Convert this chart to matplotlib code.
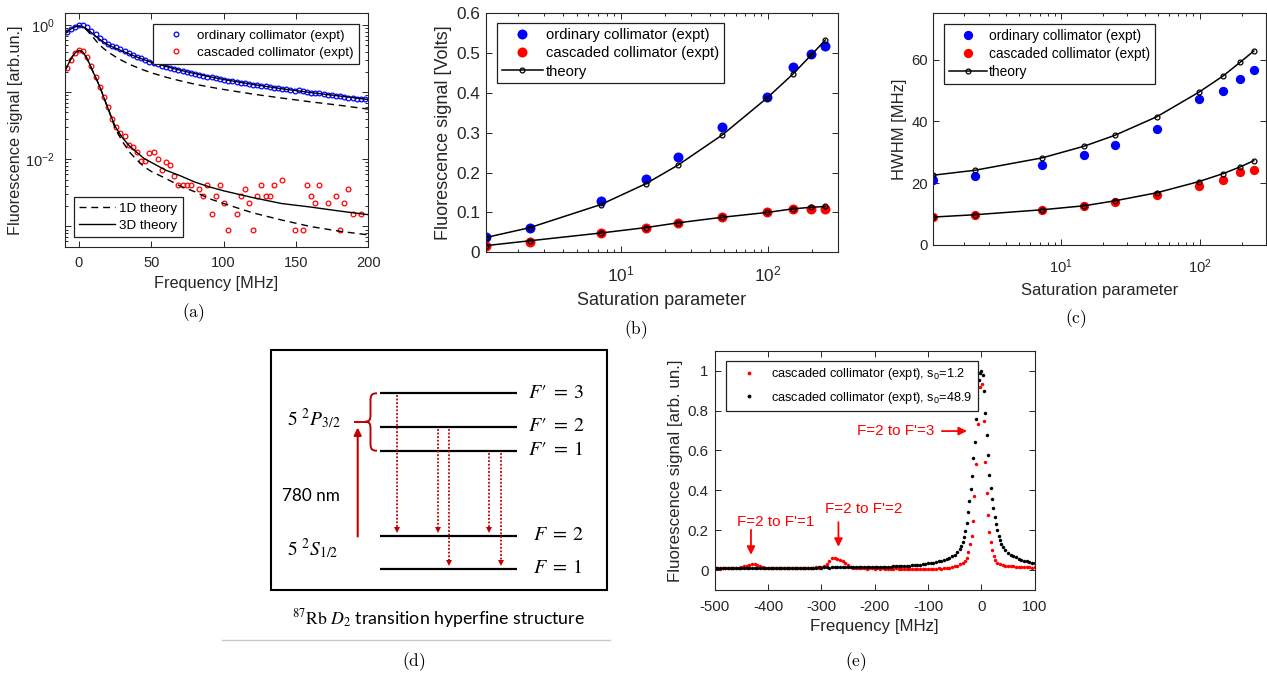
import numpy as np
import matplotlib.pyplot as plt
from matplotlib.patches import Rectangle, PathPatch
from matplotlib.path import Path
from matplotlib.ticker import LogLocator, NullFormatter

W, H = 1267, 675
GREY = '#262626'
DRED = '#c00000'

plt.rcParams['font.family'] = ['Liberation Sans', 'DejaVu Sans']
plt.rcParams['mathtext.fontset'] = 'custom'
plt.rcParams['mathtext.rm'] = 'Liberation Sans'
plt.rcParams['mathtext.it'] = 'Liberation Sans:italic'
plt.rcParams['mathtext.bf'] = 'Liberation Sans:bold'
plt.rcParams['axes.unicode_minus'] = False

#(a) line shapes, log scale
a_freq = np.linspace(-8.6, 197.75, 73)
a_ordinary = [0.80, 0.88, 0.95, 1.01, 1.00, 0.93, 0.83, 0.73, 0.64, 0.575,
              0.525, 0.49, 0.465, 0.435, 0.41, 0.385, 0.36, 0.34, 0.32, 0.302,
              0.286, 0.272, 0.26, 0.25, 0.24, 0.229, 0.22, 0.213, 0.206, 0.198,
              0.192, 0.186, 0.181, 0.175, 0.171, 0.166, 0.161, 0.157, 0.152, 0.149,
              0.145, 0.142, 0.139, 0.135, 0.133, 0.130, 0.127, 0.124, 0.122, 0.119,
              0.117, 0.115, 0.113, 0.110, 0.109, 0.106, 0.108, 0.103, 0.101, 0.099,
              0.098, 0.096, 0.093, 0.092, 0.091, 0.088, 0.087, 0.085, 0.083, 0.082,
              0.080, 0.079, 0.078]
nan = np.nan
a_cascaded = [0.226, 0.307, 0.39, 0.43, 0.405, 0.335, 0.245, 0.168, 0.118, 0.0839,
              0.0596, 0.0395, 0.0307, 0.0244, 0.0225, 0.0162, 0.0155, 0.0127, 0.00957, 0.00957,
              0.0123, 0.0129, 0.0103, 0.00688, 0.00904, 0.00826, 0.0056, 0.00421, 0.00421, 0.00421,
              0.00421, nan, 0.00359, 0.00289, 0.00421, 0.00154, 0.00289, 0.00421, 0.00222, 0.00088,
              nan, 0.00154, 0.00289, 0.00359, 0.00222, 0.00088, 0.00289, 0.00421, 0.00289, 0.00289,
              0.00421, nan, 0.00493, nan, nan, 0.00088, nan, 0.00088, 0.00421, 0.00289,
              0.00222, 0.00421, nan, 0.00222, nan, 0.00289, 0.00088, 0.00222, 0.00359, 0.00154,
              nan, 0.00154, nan]
a_theory_freq = [-10, -7.5, -5, -2.5, 0, 2.5, 5, 7.5, 10, 12.5, 15, 17.5, 20, 25, 30,
                 35, 40, 45, 50, 60, 70, 80, 90, 100, 120, 140, 160, 180, 200]
a_3d_ordinary = [0.74, 0.82, 0.89, 0.95, 0.97, 0.95, 0.89, 0.81, 0.73, 0.66, 0.60, 0.55,
                 0.51, 0.455, 0.41, 0.37, 0.335, 0.305, 0.28, 0.243, 0.213, 0.19, 0.171,
                 0.155, 0.131, 0.113, 0.099, 0.088, 0.078]
a_1d_ordinary = [0.74, 0.82, 0.89, 0.95, 0.97, 0.94, 0.86, 0.75, 0.65, 0.56, 0.49, 0.44,
                 0.40, 0.34, 0.295, 0.26, 0.235, 0.213, 0.195, 0.168, 0.148, 0.132, 0.12,
                 0.11, 0.094, 0.082, 0.072, 0.064, 0.056]
a_3d_cascaded = [0.20, 0.26, 0.33, 0.39, 0.42, 0.40, 0.335, 0.26, 0.195, 0.15, 0.112, 0.08,
                 0.058, 0.031, 0.021, 0.0158, 0.0127, 0.0103, 0.009, 0.0069, 0.0057, 0.0046,
                 0.0039, 0.0034, 0.0027, 0.0022, 0.00195, 0.0017, 0.0015]
a_1d_cascaded = [0.20, 0.26, 0.33, 0.39, 0.42, 0.40, 0.335, 0.26, 0.195, 0.15, 0.112, 0.08,
                 0.058, 0.029, 0.0185, 0.0128, 0.0098, 0.0078, 0.0066, 0.0052, 0.0040, 0.0033,
                 0.0026, 0.0022, 0.0016, 0.00125, 0.001, 0.00085, 0.00075]

#(b) and (c) saturation series
sat = [1.2, 2.4, 7.3, 14.7, 24.4, 48.9, 98, 147, 196, 245]
b_ordinary = [0.039, 0.062, 0.129, 0.185, 0.238, 0.315, 0.391, 0.464, 0.497, 0.518]
b_cascaded = [0.0167, 0.026, 0.048, 0.062, 0.074, 0.0895, 0.100, 0.108, 0.109, 0.109]
b_theory_ord = [0.037, 0.062, 0.120, 0.172, 0.219, 0.295, 0.387, 0.447, 0.495, 0.533]
b_theory_cas = [0.0167, 0.029, 0.0485, 0.062, 0.074, 0.088, 0.100, 0.109, 0.113, 0.115]
b_yticks = [0, 0.1, 0.2, 0.3, 0.4, 0.5, 0.6]
b_ylabels = ['0', '0.1', '0.2', '0.3', '0.4', '0.5', '0.6']

c_ordinary = [21.0, 22.3, 25.9, 29.0, 32.3, 37.6, 47.1, 49.8, 53.6, 56.5]
c_cascaded = [9.05, 9.6, 11.2, 12.6, 14.0, 16.2, 19.2, 21.2, 23.5, 24.2]
c_theory_ord = [22.6, 24.2, 28.2, 32.0, 35.5, 41.5, 49.4, 54.7, 59.2, 62.8]
c_theory_cas = [9.05, 9.8, 11.4, 12.7, 14.3, 16.9, 20.5, 23.1, 25.3, 27.3]

#(e) spectra
e_base_f = np.arange(-500, -39, 5)
e_red_base = [0.008, 0.01, 0.007, 0.009, 0.011, 0.008, 0.01, 0.012, 0.009, 0.011,
              0.014, 0.018, 0.022, 0.027, 0.03, 0.029, 0.026, 0.02, 0.015, 0.012,
              0.01, 0.009, 0.011, 0.008, 0.01, 0.009, 0.011, 0.008, 0.01, 0.009,
              0.011, 0.01, 0.008, 0.012, 0.01, 0.011, 0.009, 0.012, 0.013, 0.012,
              0.015, 0.02, 0.03, 0.045, 0.058, 0.06, 0.055, 0.05, 0.045, 0.035,
              0.025, 0.016, 0.012, 0.01, 0.009, 0.008, 0.01, 0.007, 0.009, 0.008,
              0.007, 0.009, 0.006, 0.008, 0.007, 0.005, 0.007, 0.006, 0.008, 0.006,
              0.005, 0.007, 0.006, 0.004, 0.006, 0.005, 0.007, 0.005, 0.006, 0.004,
              0.006, 0.005, 0.007, 0.006, 0.008, 0.007, 0.009, 0.01, 0.012, 0.014,
              0.018, 0.022, 0.03]
e_red_peak_f = [-35, -31, -27.5, -24.5, -21.5, -18.5, -15.5, -13, -10, -7, -3.5,
                1.5, 4, 7.5, 11, 13, 15, 17.5, 20, 23, 26, 30]
e_red_peak = [0.035, 0.045, 0.06, 0.09, 0.13, 0.17, 0.245, 0.37, 0.53, 0.73, 0.92,
              0.935, 0.745, 0.54, 0.385, 0.275, 0.19, 0.14, 0.1, 0.07, 0.05, 0.035]
e_red_tail_f = np.arange(35, 101, 5)
e_red_tail = [0.028, 0.025, 0.02, 0.022, 0.018, 0.02, 0.016, 0.015, 0.017, 0.014,
              0.013, 0.015, 0.012, 0.013]
e_black_base = [0.008, 0.009, 0.008, 0.009, 0.009, 0.008, 0.009, 0.01, 0.009, 0.009,
                0.01, 0.009, 0.01, 0.01, 0.009, 0.01, 0.01, 0.009, 0.01, 0.01,
                0.01, 0.011, 0.01, 0.01, 0.011, 0.01, 0.011, 0.011, 0.01, 0.011,
                0.011, 0.011, 0.012, 0.011, 0.012, 0.011, 0.012, 0.012, 0.012, 0.013,
                0.012, 0.013, 0.013, 0.012, 0.013, 0.013, 0.014, 0.013, 0.014, 0.014,
                0.014, 0.013, 0.014, 0.014, 0.015, 0.014, 0.015, 0.015, 0.014, 0.015,
                0.015, 0.016, 0.015, 0.016, 0.017, 0.016, 0.017, 0.018, 0.018, 0.019,
                0.019, 0.02, 0.021, 0.022, 0.023, 0.024, 0.025, 0.027, 0.029, 0.031,
                0.033, 0.035, 0.037, 0.04, 0.043, 0.047, 0.051, 0.056, 0.062, 0.069,
                0.077, 0.09, 0.105]
e_black_peak_f = [-37.5, -35, -32.5, -30, -27.5, -25, -22.5, -20, -17.5, -15, -12.5,
                  -10, -7.5, -5, -2.5, 0, 2.5, 5, 7.5, 10, 12.5, 15, 17.5, 20, 22.5,
                  25, 27.5, 30, 32.5, 35, 37.5]
e_black_peak = [0.12, 0.14, 0.165, 0.195, 0.235, 0.29, 0.345, 0.405, 0.47, 0.56, 0.643,
                0.755, 0.865, 0.955, 0.99, 1.0, 0.98, 0.9, 0.79, 0.675, 0.575, 0.475,
                0.41, 0.355, 0.31, 0.265, 0.23, 0.2, 0.172, 0.15, 0.13]
e_black_tail_f = np.arange(40, 101, 5)
e_black_tail = [0.115, 0.1, 0.088, 0.078, 0.07, 0.063, 0.057, 0.052, 0.047, 0.043,
                0.04, 0.037, 0.034]

#(d) level diagram layout (pixels)
d_levels_y = [393.3, 426.7, 450.7, 536.0, 568.7]
d_level_names = ["$F\u2032\\;=\\;3$", "$F\u2032\\;=\\;2$", "$F\u2032\\;=\\;1$",
                 r"$F\;=\;2$", r"$F\;=\;1$"]
d_label_x = [528, 528, 528, 533, 533]
d_decays = [(396.7, 0, 3), (437.7, 1, 3), (449.3, 1, 4), (489.3, 2, 3), (501.0, 2, 4)]


def px_axes(fig, left, top, right, bottom):
    return fig.add_axes([left / W, 1 - bottom / H, (right - left) / W, (bottom - top) / H])


def matlab_axes(ax, fs, xpad, ypad):
    ax.tick_params(which='both', direction='in', top=True, right=True,
                   labelsize=fs, color=GREY, labelcolor=GREY, width=0.7)
    ax.tick_params(which='major', length=4.5)
    ax.tick_params(which='minor', length=2.5)
    ax.tick_params(axis='x', pad=xpad)
    ax.tick_params(axis='y', pad=ypad)
    for sp in ax.spines.values():
        sp.set_color(GREY)
        sp.set_linewidth(0.8)


def box_legend(ax, handles, labels, left, top, fs, **kw):
    leg = ax.legend(handles, labels, loc='upper left',
                    bbox_to_anchor=(left / W, 1 - top / H), bbox_transform=fig.transFigure,
                    borderaxespad=0, fontsize=fs, fancybox=False, framealpha=1,
                    edgecolor='#202020', numpoints=1, **kw)
    leg.get_frame().set_linewidth(0.9)
    return leg


fig = plt.figure(figsize=(W / 100, H / 100), dpi=100)

# overlay in pixel coordinates for diagram and captions
ov = fig.add_axes([0, 0, 1, 1])
ov.set_xlim(0, W)
ov.set_ylim(H, 0)
ov.axis('off')

# ---- (a)
ax = px_axes(fig, 64.5, 13.3, 368.3, 246.7)
ho, = ax.plot(a_freq, a_ordinary, 'o', mfc='none', mec='b', ms=3.4, mew=0.9)
hc, = ax.plot(a_freq, a_cascaded, 'o', mfc='none', mec='r', ms=3.4, mew=0.9)
dash = (0, (5, 3.5))
h1d, = ax.plot(a_theory_freq, a_1d_ordinary, color='k', lw=1, ls=dash)
ax.plot(a_theory_freq, a_1d_cascaded, color='k', lw=1, ls=dash)
h3d, = ax.plot(a_theory_freq, a_3d_ordinary, color='k', lw=1)
ax.plot(a_theory_freq, a_3d_cascaded, color='k', lw=1)
ax.set_yscale('log')
ax.set_xlim(-10, 200)
ax.set_ylim(5e-4, 1.5)
ax.set_xticks([0, 50, 100, 150, 200])
ax.set_yticks([1e-3, 1e-2, 1e-1, 1], labels=['', '$10^{-2}$', '', '$10^{0}$'])
ax.yaxis.set_minor_locator(LogLocator(subs=np.arange(2, 10)))
ax.yaxis.set_minor_formatter(NullFormatter())
matlab_axes(ax, 10.5, 7, 7)
ax.set_xlabel('Frequency [MHz]', fontsize=11.7, color=GREY, labelpad=4)
ax.set_ylabel('Fluorescence signal [arb.un.]', fontsize=11.7, color=GREY)
ax.yaxis.set_label_coords(-0.135, 0.5)
leg = box_legend(ax, [ho, hc], ['ordinary collimator (expt)', 'cascaded collimator (expt)'],
                 153, 24, 9.6, borderpad=0.4, handlelength=2.6, handletextpad=0.3,
                 labelspacing=0.35)
ax.add_artist(leg)
box_legend(ax, [h1d, h3d], ['1D theory', '3D theory'], 74, 197, 9.6,
           borderpad=0.4, handlelength=2.7, handletextpad=0.3, labelspacing=0.35)

# ---- (b)
ax = px_axes(fig, 485.7, 13.3, 838.3, 252.3)
ho, = ax.plot(sat, b_ordinary, 'o', color='b', ms=7.2, mew=0)
hc, = ax.plot(sat, b_cascaded, 'o', color='r', ms=7.2, mew=0)
ht, = ax.plot(sat, b_theory_ord, '-o', color='k', lw=1.1, ms=3.5, mfc='none', mew=0.9)
ax.plot(sat, b_theory_cas, '-o', color='k', lw=1.1, ms=3.5, mfc='none', mew=0.9)
ax.set_xscale('log')
ax.set_xlim(1.2, 300)
ax.set_ylim(0, 0.6)
ax.set_yticks(b_yticks, labels=b_ylabels)
ax.xaxis.set_minor_formatter(NullFormatter())
matlab_axes(ax, 12.4, 9, 4)
ax.set_xlabel('Saturation parameter', fontsize=13, color=GREY, labelpad=5)
ax.set_ylabel('Fluorescence signal [Volts]', fontsize=13, color=GREY, labelpad=3)
box_legend(ax, [ho, hc, ht], ['ordinary collimator (expt)', 'cascaded collimator (expt)', 'theory'],
           497, 23, 10.6, borderpad=0.32, handlelength=2.8, handletextpad=0.22,
           labelspacing=0.3)

# ---- (c)
ax = px_axes(fig, 933.3, 13.3, 1266, 245)
ho, = ax.plot(sat, c_ordinary, 'o', color='b', ms=6.7, mew=0)
hc, = ax.plot(sat, c_cascaded, 'o', color='r', ms=6.7, mew=0)
ht, = ax.plot(sat, c_theory_ord, '-o', color='k', lw=1.1, ms=3.5, mfc='none', mew=0.9)
ax.plot(sat, c_theory_cas, '-o', color='k', lw=1.1, ms=3.5, mfc='none', mew=0.9)
ax.set_xscale('log')
ax.set_xlim(1.2, 300)
ax.set_ylim(0, 75)
ax.set_yticks([0, 20, 40, 60])
ax.xaxis.set_minor_formatter(NullFormatter())
matlab_axes(ax, 10.6, 9, 4)
ax.set_xlabel('Saturation parameter', fontsize=12, color=GREY, labelpad=5)
ax.set_ylabel('HWHM [MHz]', fontsize=12, color=GREY, labelpad=3)
box_legend(ax, [ho, hc, ht], ['ordinary collimator (expt)', 'cascaded collimator (expt)', 'theory'],
           944, 24, 9.9, borderpad=0.36, handlelength=2.74, handletextpad=0.19,
           labelspacing=0.3)

# ---- (e)
ax = px_axes(fig, 714.7, 350.7, 1034.7, 590)
red_f = np.concatenate([e_base_f, e_red_peak_f, e_red_tail_f])
red_v = np.concatenate([e_red_base, e_red_peak, e_red_tail])
blk_f = np.concatenate([e_base_f, e_black_peak_f, e_black_tail_f])
blk_v = np.concatenate([e_black_base, e_black_peak, e_black_tail])
hr, = ax.plot(red_f, red_v, 'o', color='r', ms=2.5, mew=0)
hk, = ax.plot(blk_f, blk_v, 'o', color='k', ms=2.5, mew=0)
ax.set_xlim(-500, 100)
ax.set_ylim(-0.1, 1.1)
ax.set_xticks([-500, -400, -300, -200, -100, 0, 100])
ax.set_yticks([0, 0.2, 0.4, 0.6, 0.8, 1], labels=['0', '0.2', '0.4', '0.6', '0.8', '1'])
matlab_axes(ax, 10.8, 7, 4.5)
ax.set_xlabel('Frequency [MHz]', fontsize=12.2, color=GREY, labelpad=4)
ax.set_ylabel('Fluorescence signal [arb. un.]', fontsize=12.2, color=GREY, labelpad=3)
box_legend(ax, [hr, hk], ['cascaded collimator (expt), s$_0$=1.2',
                          'cascaded collimator (expt), s$_0$=48.9'],
           726, 361, 9.2, borderpad=0.4, handlelength=2.8, handletextpad=0.35,
           labelspacing=0.6, markerscale=1.1)
arrow = dict(arrowstyle='-|>', color='r', lw=1.3, mutation_scale=12, shrinkA=0, shrinkB=0)
ax.text(-160, 0.697, "F=2 to F'=3", color='r', fontsize=11, ha='center', va='center')
ax.annotate('', xy=(-27, 0.697), xytext=(-74, 0.697), arrowprops=arrow)
ax.text(-385, 0.2415, "F=2 to F'=1", color='r', fontsize=11, ha='center', va='center')
ax.annotate('', xy=(-432, 0.0765), xytext=(-432, 0.2015), arrowprops=arrow)
ax.text(-220, 0.3065, "F=2 to F'=2", color='r', fontsize=11, ha='center', va='center')
ax.annotate('', xy=(-268, 0.1165), xytext=(-268, 0.24), arrowprops=arrow)

# ---- (d) hyperfine level diagram
ov.add_patch(Rectangle((271, 350), 336, 240, fill=False, ec='k', lw=1.5))
for y, name, lx in zip(d_levels_y, d_level_names, d_label_x):
    ov.plot([379.5, 517], [y, y], color='k', lw=1.6, solid_capstyle='butt')
    ov.text(lx, y + 4.5, name, fontsize=14.5, math_fontfamily='stix', va='baseline', ha='left')
for x, i, j in d_decays:
    y0 = d_levels_y[i] + 2
    y1 = d_levels_y[j] - 6
    ov.plot([x, x], [y0, y1], color=DRED, lw=1.3, ls=(0, (1, 1)))
    ov.plot(x, y1, marker='v', color=DRED, ms=5, mew=0)
ov.annotate('', xy=(357.7, 427.5), xytext=(357.7, 536.5),
            arrowprops=dict(arrowstyle='-|>', color=DRED, lw=1.5, mutation_scale=11,
                            shrinkA=0, shrinkB=0))
brace = Path([(377, 393.3), (371, 393.3), (370.5, 396), (370.5, 401),
              (370.5, 415), (370.5, 420), (369, 421.7), (365.5, 421.7),
              (369, 421.7), (370.5, 423.5), (370.5, 428),
              (370.5, 443), (370.5, 448), (371, 450.7), (377, 450.7)],
             [Path.MOVETO, Path.CURVE4, Path.CURVE4, Path.CURVE4,
              Path.LINETO, Path.CURVE4, Path.CURVE4, Path.CURVE4,
              Path.CURVE4, Path.CURVE4, Path.CURVE4,
              Path.LINETO, Path.CURVE4, Path.CURVE4, Path.CURVE4])
ov.add_patch(PathPatch(brace, fill=False, ec=DRED, lw=1.4))
ov.plot([354.5, 366], [421.7, 421.7], color=DRED, lw=1.4)
ov.text(287, 425, r'$5\ {}^{2}P_{3/2}$', fontsize=14, math_fontfamily='stix', va='baseline')
ov.text(282, 501, '780 nm', fontsize=12.3, family='Lato', va='baseline')
ov.text(287, 555, r'$5\ {}^{2}S_{1/2}$', fontsize=14, math_fontfamily='stix', va='baseline')
ov.text(438, 619, r'$^{87}\mathrm{Rb}\ D_2$ transition hyperfine structure', fontsize=12.8,
        family='Lato', math_fontfamily='stix', ha='center', va='center')
ov.plot([222, 610], [640, 640], color='#c8c8c8', lw=1)

# panel captions
for lab, (cx, cy) in zip(['a', 'b', 'c', 'd', 'e'],
                         [(193, 313), (636, 330), (1076, 319), (414, 662), (856, 662)]):
    ov.text(cx, cy, r'$\mathrm{(%s)}$' % lab, fontsize=12.5, math_fontfamily='cm',
            ha='center', va='center')

fig.savefig('out.png', dpi=100)
